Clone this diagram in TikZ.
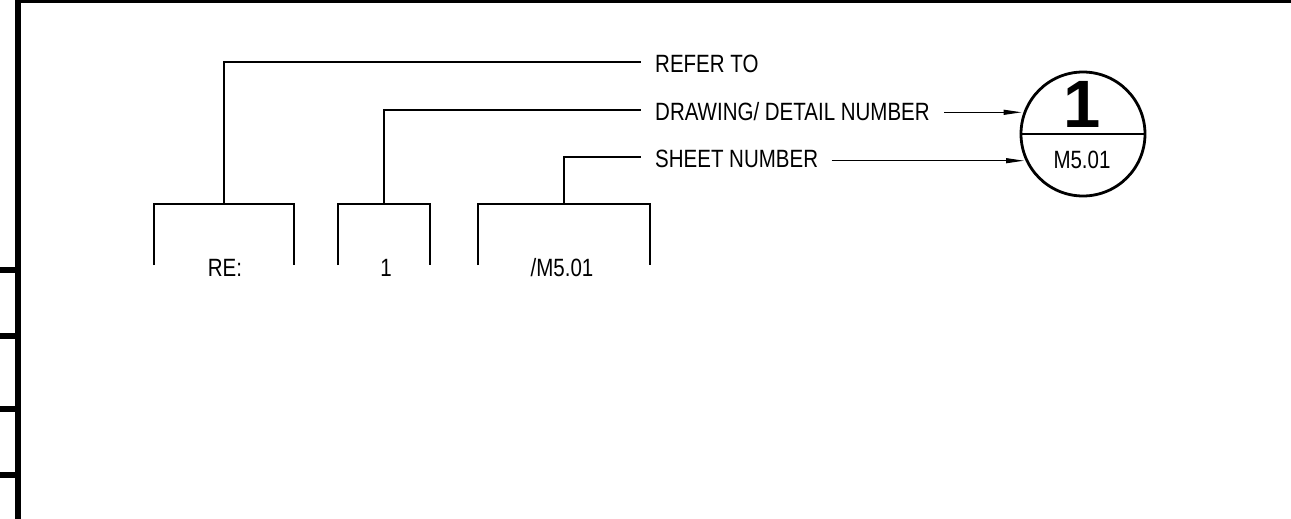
\documentclass[tikz,border=0pt]{standalone}
\usepackage{fontspec}
\setmainfont{Liberation Sans}[FakeStretch=0.82]
\newfontfamily\plainfont{Liberation Sans}
\usetikzlibrary{arrows.meta}
\tikzset{
  lbl/.style={inner sep=0pt, font=\fontsize{25}{25}\selectfont},
  bracketline/.style={line width=2.2pt},
  leader/.style={line width=1pt, -{Triangle[length=18pt,width=5pt]}},
  borderline/.style={line width=6pt},
}
\begin{document}
\begin{tikzpicture}[x=1pt,y=-1pt]
\useasboundingbox (0,0) rectangle (1291,519);
% sheet border
\draw[line width=3pt] (15,2) -- (1291,2);
\draw[borderline] (18,0) -- (18,519);
\foreach \ty in {270,336,409,475}{
  \draw[borderline] (0,\ty) -- (18,\ty);
}
% brackets
\coordinate (b1s) at (224,204);
\coordinate (b2s) at (384,204);
\coordinate (b3s) at (564,204);
\draw[bracketline] (154,265) -- (154,204) -- (294,204) -- (294,265);
\draw[bracketline] (338,265) -- (338,204) -- (430,204) -- (430,265);
\draw[bracketline] (478,265) -- (478,204) -- (650,204) -- (650,265);
\node[lbl, anchor=base] (re) at (225,276.7) {RE:};
\node[lbl, anchor=base] (one) at (386,276.7) {1};
\node[lbl, anchor=base] (sheetref) at (562,276.7) {/M5.01};
% labels
\node[lbl, anchor=base west] (referto) at (655,72.7) {REFER TO};
\node[lbl, anchor=base west] (drawno) at (655,121) {DRAWING/ DETAIL NUMBER};
\node[lbl, anchor=base west] (sheetno) at (655,167.5) {SHEET NUMBER};
% leaders from brackets to labels
\coordinate (e1) at (640.7,61.7);
\coordinate (e2) at (640.7,110);
\coordinate (e3) at (640.7,157.3);
\draw[bracketline] (b1s) |- (e1);
\draw[bracketline] (b2s) |- (e2);
\draw[bracketline] (b3s) |- (e3);
% detail symbol
\node[circle, draw, line width=2.8pt, minimum size=124pt, inner sep=0pt] (sym) at (1083,134) {};
\draw[line width=2.8pt] (sym.west) -- (sym.east);
\node[inner sep=0pt, anchor=base, font=\plainfont\bfseries\fontsize{67}{67}\selectfont] (symnum) at (1082,128) {1};
\node[lbl, anchor=base] (symsheet) at (1082,168.3) {M5.01};
% arrows
\coordinate (a1s) at (944,112.3);
\coordinate (a1e) at (1021.7,112.3);
\coordinate (a2s) at (831.7,160.7);
\coordinate (a2e) at (1024,160.7);
\draw[leader] (a1s) -- (a1e);
\draw[leader] (a2s) -- (a2e);
\end{tikzpicture}
\end{document}
